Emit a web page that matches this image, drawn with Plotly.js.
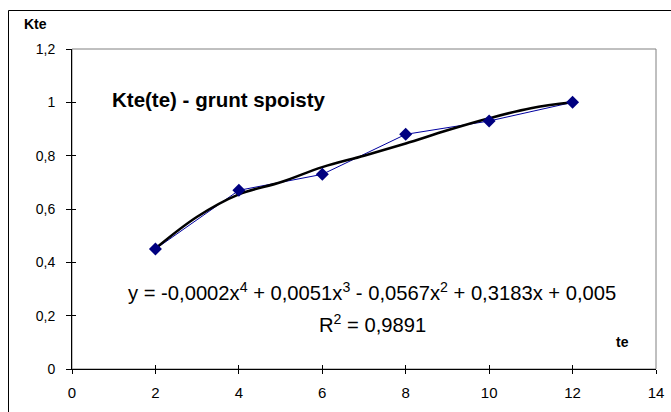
<!DOCTYPE html>
<html>
<head>
<meta charset="utf-8">
<script src="https://cdn.plot.ly/plotly-3.0.1.min.js"></script>
<style>html,body{margin:0;padding:0;background:#fff;}#chart{width:671px;height:412px;}</style>
</head>
<body>
<div id="chart"></div>
<script>
// Measured data points
var teValues = [2, 4, 6, 8, 10, 12];
var kteValues = [0.45, 0.67, 0.73, 0.88, 0.93, 1.0];
// Trendline (4th-degree polynomial) values
var trendTe = [2, 3, 4, 5, 6, 7, 8, 9, 10, 11, 12];
var trendKte = [0.452, 0.571, 0.655, 0.70, 0.757, 0.80, 0.846, 0.895, 0.94, 0.978, 1.0];
// Axis ticks
var xTicks = [0, 2, 4, 6, 8, 10, 12, 14];
var yTicks = [0, 0.2, 0.4, 0.6, 0.8, 1, 1.2];
var yTickText = ['0', '0,2', '0,4', '0,6', '0,8', '1', '1,2'];
// Texts
var chartTitle = 'Kte(te) - grunt spoisty';
var yLabel = 'Kte';
var xLabel = 'te';
var equationText = 'y = -0,0002x<sup>4</sup> + 0,0051x<sup>3</sup> - 0,0567x<sup>2</sup> + 0,3183x + 0,005';
var r2Text = 'R<sup>2</sup> = 0,9891';

var FONT = 'Arial, "Liberation Sans", sans-serif';
var L = 72, R = 656, T = 49, B = 369;
function px(x) { return (x - L) / (R - L); }
function py(y) { return (B - y) / (B - T); }

var traces = [
  {x: teValues, y: kteValues, mode: 'lines', line: {color: '#0000A0', width: 1},
   hoverinfo: 'skip', showlegend: false},
  {x: trendTe, y: trendKte, mode: 'lines', line: {color: '#000000', width: 2.6, shape: 'spline', smoothing: 1},
   hoverinfo: 'skip', showlegend: false},
  {x: teValues, y: kteValues, mode: 'markers',
   marker: {symbol: 'diamond', size: 10, color: '#000080', line: {width: 0}},
   hoverinfo: 'skip', showlegend: false},
  {x: [null], y: [null], xaxis: 'x2', yaxis: 'y', mode: 'markers', showlegend: false, hoverinfo: 'skip'},
  {x: [null], y: [null], xaxis: 'x', yaxis: 'y2', mode: 'markers', showlegend: false, hoverinfo: 'skip'}
];

var layout = {
  width: 671, height: 412,
  margin: {l: L, r: 671 - R, t: T, b: 412 - B, pad: 0},
  paper_bgcolor: '#ffffff', plot_bgcolor: '#ffffff',
  showlegend: false,
  font: {family: FONT, size: 14, color: '#000'},
  xaxis: {
    range: [0, 14], tickvals: xTicks, ticktext: xTicks.map(String),
    showgrid: false, zeroline: false, showline: true, linecolor: '#000', linewidth: 1,
    ticks: 'outside', ticklen: 4, tickcolor: '#000', tickwidth: 1,
    ticklabelstandoff: 6,
    tickfont: {family: FONT, size: 15, color: '#000'}, fixedrange: true
  },
  xaxis2: {
    range: [0, 14], tickvals: xTicks, overlaying: 'x', anchor: 'y',
    showgrid: false, zeroline: false, showline: false, showticklabels: false,
    ticks: 'inside', ticklen: 4, tickcolor: '#000', tickwidth: 1, fixedrange: true
  },
  yaxis: {
    range: [0, 1.2], tickvals: yTicks, ticktext: yTickText,
    showgrid: false, zeroline: false, showline: true, linecolor: '#000', linewidth: 1,
    ticks: 'outside', ticklen: 5, tickcolor: '#000', tickwidth: 1,
    ticklabelstandoff: 8,
    tickfont: {family: FONT, size: 14, color: '#000'}, fixedrange: true
  },
  yaxis2: {
    range: [0, 1.2], tickvals: yTicks, overlaying: 'y', anchor: 'x', side: 'left',
    showgrid: false, zeroline: false, showline: false, showticklabels: false,
    ticks: 'inside', ticklen: 4, tickcolor: '#000', tickwidth: 1, fixedrange: true
  },
  shapes: [
    {type: 'rect', xref: 'paper', yref: 'paper', x0: 0, x1: 1, y0: 0, y1: 1,
     line: {color: '#808080', width: 1}, layer: 'below'},
    {type: 'rect', xref: 'paper', yref: 'paper', x0: px(8.5), x1: px(700), y0: py(440), y1: py(10.5),
     line: {color: '#000', width: 1}, layer: 'below'}
  ],
  annotations: [
    {text: yLabel, xref: 'paper', yref: 'paper', x: px(22), y: py(24), xanchor: 'left', yanchor: 'middle',
     showarrow: false, font: {family: FONT, size: 14, color: '#000', weight: 'bold'}},
    {text: xLabel, xref: 'paper', yref: 'paper', x: px(622), y: py(342), xanchor: 'center', yanchor: 'middle',
     showarrow: false, font: {family: FONT, size: 14, color: '#000', weight: 'bold'}},
    {text: chartTitle, xref: 'paper', yref: 'paper', x: px(110), y: py(99), xanchor: 'left', yanchor: 'middle',
     showarrow: false, font: {family: FONT, size: 20.5, color: '#000', weight: 'bold'}},
    {text: equationText, xref: 'paper', yref: 'paper', x: px(372), y: py(291), xanchor: 'center', yanchor: 'middle',
     showarrow: false, font: {family: FONT, size: 20.2, color: '#000'}},
    {text: r2Text, xref: 'paper', yref: 'paper', x: px(372), y: py(323), xanchor: 'center', yanchor: 'middle',
     showarrow: false, font: {family: FONT, size: 20.2, color: '#000'}}
  ]
};

Plotly.newPlot('chart', traces, layout, {staticPlot: true, displayModeBar: false});
</script>
</body>
</html>
